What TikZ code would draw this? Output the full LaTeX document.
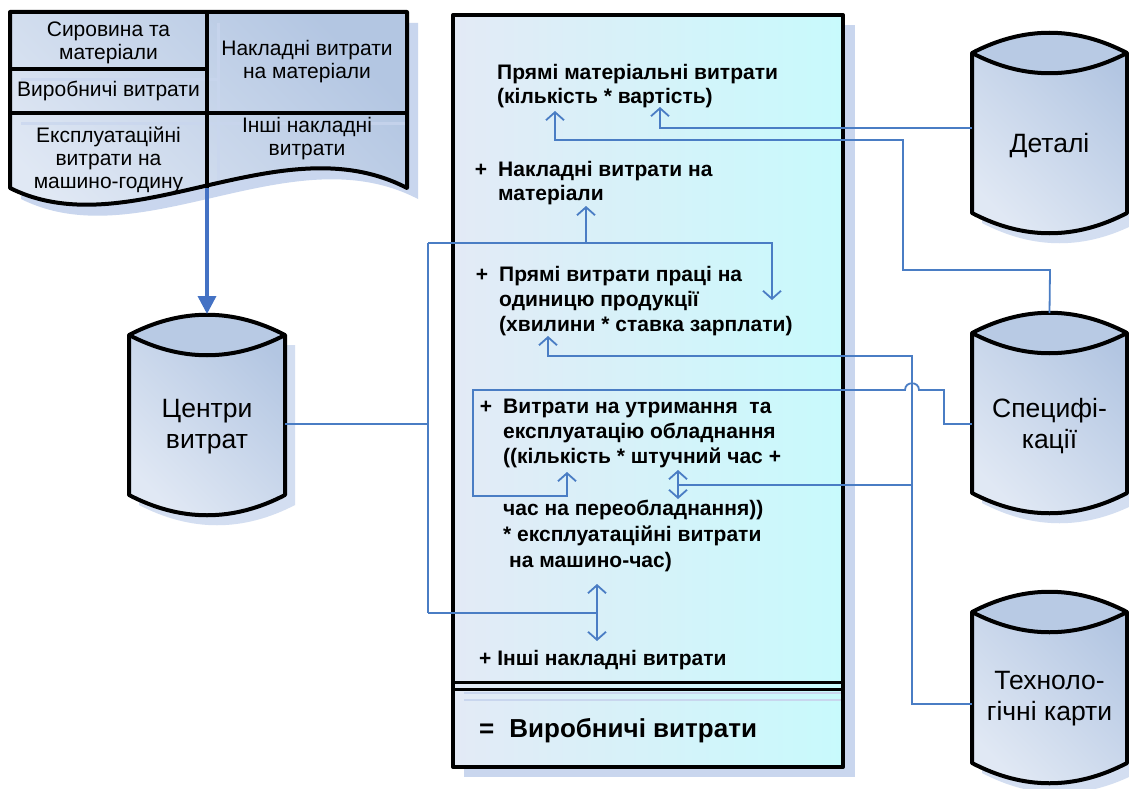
\documentclass[tikz,border=0pt]{standalone}
\usepackage{fontspec}
\setmainfont{Liberation Sans}
\usetikzlibrary{arrows.meta}

\definecolor{linkBlue}{HTML}{4A7DC4}
\definecolor{flowBlue}{HTML}{4472C4}
\definecolor{paleBlue}{HTML}{E0E8F4}
\definecolor{midBlue}{HTML}{B3C6E2}
\definecolor{lensBlue}{HTML}{B8CAE4}
\definecolor{shadowBlue}{HTML}{C9D6EE}
\definecolor{sheetLeft}{HTML}{E3EAF6}
\definecolor{sheetRight}{HTML}{C8FAFC}

\tikzset{
  outline/.style={draw=black, line width=4pt, line join=round},
  wire/.style={draw=linkBlue, line width=1.8pt},
  link/.style={wire, -{Straight Barb[length=8pt,width=18pt]}},
  flowarrow/.style={draw=flowBlue, line width=3.5pt, -{Triangle[length=18pt,width=18pt]}},
  bodyshade/.style={top color=midBlue, bottom color=paleBlue, shading angle=-45},
  drumbody/.style={inner sep=0pt, draw=none},
  sumline/.style={font=\fontsize{21}{24}\selectfont\bfseries, anchor=base west, inner sep=0pt, align=left},
  cell/.style={font=\fontsize{21}{23}\selectfont, anchor=base, inner sep=0pt, align=center},
  drumtext/.style={font=\fontsize{26.5}{31}\selectfont, anchor=base, inner sep=0pt, align=center},
}

\newcommand{\plusmark}{\llap{+\hspace{11pt}}}

% database drum: left x, right x, top of the sides, bottom of the sides
\newcommand{\drumshape}[4]{%
  \pgfmathsetmacro{\qa}{#1+(#2-#1)/3}%
  \pgfmathsetmacro{\qb}{#2-(#2-#1)/3}%
  \fill[shadowBlue, opacity=0.8] ({#1+10},{#3+10}) -- ({#1+10},{#4+10})
     .. controls ({\qa+10},{#4+37}) and ({\qb+10},{#4+37}) .. ({#2+10},{#4+10})
     -- ({#2+10},{#3+10}) -- cycle;
  \shade[bodyshade] (#1,#3) -- (#1,#4)
     .. controls (\qa,{#4+27}) and (\qb,{#4+27}) .. (#2,#4)
     -- (#2,#3) .. controls (\qb,{#3-27}) and (\qa,{#3-27}) .. (#1,#3) -- cycle;
  \fill[lensBlue] (#1,#3) .. controls (\qa,{#3-27}) and (\qb,{#3-27}) .. (#2,#3)
     .. controls (\qb,{#3+27}) and (\qa,{#3+27}) .. (#1,#3) -- cycle;
  \draw[outline] (#1,#3) .. controls (\qa,{#3+27}) and (\qb,{#3+27}) .. (#2,#3);
  \draw[outline] (#1,#3) -- (#1,#4)
     .. controls (\qa,{#4+27}) and (\qb,{#4+27}) .. (#2,#4)
     -- (#2,#3) .. controls (\qb,{#3-27}) and (\qa,{#3-27}) .. (#1,#3) -- cycle;
}

\begin{document}
\begin{tikzpicture}[x=1pt, y=-1pt]
\useasboundingbox (0,0) rectangle (1129,789);
\fill[white] (0,0) rectangle (1129,789);

% ---------- source document (top left) ----------
\begin{scope}[shift={(11,11)}]
  \fill[shadowBlue] (10,12) -- (407,12) -- (407,188)
     .. controls (280,122) and (130,248) .. (10,188) -- cycle;
\end{scope}
\shade[bodyshade] (10,12) -- (407,12) -- (407,188)
   .. controls (280,122) and (130,248) .. (10,188) -- cycle;
\begin{scope}[draw=shadowBlue, line width=3pt, opacity=0.75]
  \draw (218,23) -- (218,196);
  \draw (21,80) -- (218,80);
  \draw (21,124) -- (418,124);
\end{scope}
\draw[outline] (207,12) -- (207,188);
\draw[outline] (10,69) -- (207,69);
\draw[outline] (10,113) -- (407,113);
\draw[outline] (10,12) -- (407,12) -- (407,188)
   .. controls (280,122) and (130,248) .. (10,188) -- cycle;
\coordinate (docOut) at (207,188);

% (base anchor of a multi-line node = baseline of its last line)
\node[cell] (rawMat) at (108.5,60) {Сировина та\\матеріали};
\node[cell] (prodCost) at (108.5,97) {Виробничі витрати};
\node[cell] (machCost) at (108.5,188) {Експлуатаційні\\витрати на\\машино-годину};
\node[cell] (matOver) at (307,79) {Накладні витрати\\на матеріали};
\node[cell] (otherOver) at (307,155) {Інші накладні\\витрати};

% ---------- calculation sheet ----------
\fill[shadowBlue] (464,25) rectangle (855,777);
\node[outline, left color=sheetLeft, right color=sheetRight,
      minimum width=390pt, minimum height=752pt, inner sep=0pt] (sheet) at (648,391) {};
\begin{scope}[draw=shadowBlue, line width=2.5pt]
  \draw (464,693) -- (841,693);
  \draw (464,700) -- (841,700);
\end{scope}
\draw[line width=3pt] (sheet.west |- 0,682) -- (sheet.east |- 0,682);
\draw[line width=3pt] (sheet.west |- 0,689) -- (sheet.east |- 0,689);

\node[sumline] (direct) at (497,103.5) {Прямі матеріальні витрати\\(кількість * вартість)};
\node[sumline] (overhead) at (498,200.5) {\plusmark Накладні витрати на\\матеріали};
\node[sumline, font=\fontsize{21}{25}\selectfont\bfseries] (labour) at (499,331.5)
  {\plusmark Прямі витрати праці на\\одиницю продукції\\(хвилини * ставка зарплати)};
\node[sumline, font=\fontsize{21}{25}\selectfont\bfseries] (machine) at (503,463)
  {\plusmark Витрати на утримання\ \ та\\експлуатацію обладнання\\((кількість * штучний час +};
\node[sumline, font=\fontsize{21}{26}\selectfont\bfseries] (setup) at (503,567)
  {час на переобладнання))\\* експлуатаційні витрати\\\hspace{6pt}на машино-час)};
\node[sumline] (others) at (479,665) {+ Інші накладні витрати};
\node[sumline, font=\fontsize{26}{30}\selectfont\bfseries] (result) at (479,737)
  {=\hspace{15pt}Виробничі витрати};

% ---------- databases ----------
\drumshape{129}{285}{335}{495}
\node[drumbody, minimum width=156pt, minimum height=160pt] (centr) at (207,415) {};
\node[drumtext] (centrLabel) at (207,448) {Центри\\витрат};

\drumshape{972}{1127}{53}{213}
\node[drumbody, minimum width=155pt, minimum height=160pt] (det) at (1049.5,133) {};
\node[drumtext] (detLabel) at (1049.5,153) {Деталі};

\drumshape{972}{1127}{333}{493}
\node[drumbody, minimum width=155pt, minimum height=160pt] (spec) at (1049.5,413) {};
\node[drumtext] (specLabel) at (1049.5,448) {Специфі-\\кації};

\drumshape{972}{1127}{612}{763}
\node[drumbody, minimum width=155pt, minimum height=151pt] (tech) at (1049.5,687.5) {};
\node[drumtext] (techLabel) at (1049.5,720) {Техноло-\\гічні карти};

% ---------- arrow tips inside the sheet ----------
\coordinate (tipPrice) at (660,107);
\coordinate (tipQty) at (555,111);
\coordinate (tipOver) at (586,206);
\coordinate (tipLabour) at (772,300);
\coordinate (tipWage) at (548,336);
\coordinate (tipMachQty) at (567,472);
\coordinate (tipMachTime) at (678,470);
\coordinate (tipSetup) at (678,499);
\coordinate (tipRate) at (597,584);
\coordinate (tipOther) at (597,641);

% ---------- connectors ----------
\draw[flowarrow] (docOut) -- (centr.north |- 0,314);

% cost centres
\draw[wire] (centr.east |- 0,424) -- (428,424);
\draw[wire] (428,243) -- (428,613);
\draw[link] (428,243) -| (tipLabour);
\draw[link] (586,243) -- (tipOver);
\draw[link] (428,613) -| (tipRate);
\draw[link] (597,613) -- (tipOther);

% parts
\draw[link] (det.west |- 0,128) -| (tipPrice);

% specifications
\draw[link] (spec.north |- 0,313) -- (1050,270) -| (903,140) -| (tipQty);
\draw[link] (spec.west |- 0,424) -- (944,424) -- (944,390) -- (919,390)
   .. controls (919,381) and (905,381) .. (905,390) -- (473,390) -- (473,496) -| (tipMachQty);

% routings
\draw[link] (tech.west |- 0,704) -| (912,356) -| (tipWage);
\draw[link] (912,485) -| (tipMachTime);
\draw[link] (678,485) -- (tipSetup);
\end{tikzpicture}
\end{document}
